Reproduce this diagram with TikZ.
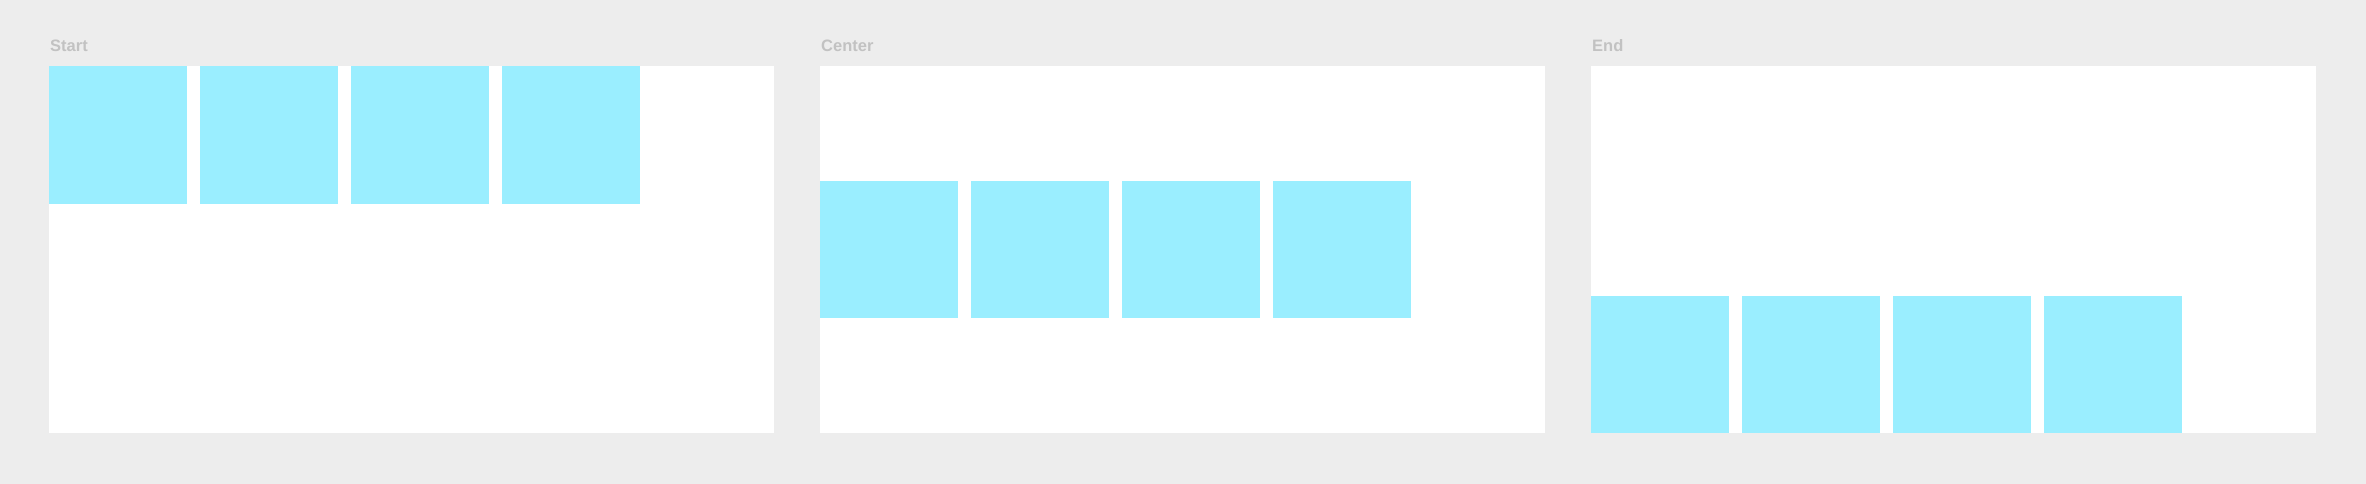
\documentclass[tikz,border=0pt]{standalone}
\usepackage{fontspec}
\setmainfont{Liberation Sans}
\definecolor{bg}{HTML}{EDEDED}
\definecolor{itemc}{HTML}{9AEEFF}
\definecolor{labelc}{HTML}{C2C2C2}
\begin{document}
\begin{tikzpicture}[x=1pt,y=-1pt,
  panel/.style={fill=white,draw=none,anchor=north west,inner sep=0pt,minimum width=725pt,minimum height=367pt},
  item/.style={fill=itemc,draw=none,anchor=north west,inner sep=0pt,minimum width=137.5pt,minimum height=137.5pt},
  lbl/.style={anchor=base west,inner sep=0pt,text=labelc,font=\fontsize{16.5}{20}\selectfont\bfseries}]
\fill[bg] (0,0) rectangle (2366,484);
\useasboundingbox (0,0) rectangle (2366,484);
% panels
\node[panel] (p1) at (49,66) {};
\node[panel] (p2) at (820,66) {};
\node[panel] (p3) at (1591,66) {};
% labels
\node[lbl] (l1) at (50,51.5) {Start};
\node[lbl] (l2) at (821,51.5) {Center};
\node[lbl] (l3) at (1592,51.5) {End};
% items
\foreach \i in {0,1,2,3}{
  \node[item] (s\i) at ({49+151*\i},66) {};
  \node[item] (c\i) at ({820+151*\i},180.75) {};
  \node[item] (e\i) at ({1591+151*\i},295.5) {};
}
\end{tikzpicture}
\end{document}
